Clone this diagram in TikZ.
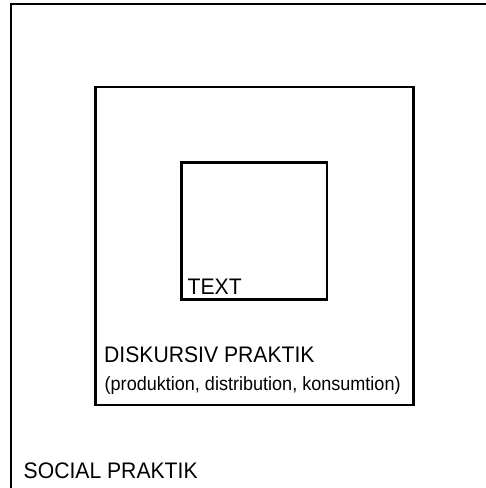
\documentclass[tikz,border=0pt]{standalone}
\usepackage{fontspec}
\setmainfont[FakeStretch=0.94]{Liberation Sans}
\begin{document}
\begin{tikzpicture}[x=1pt,y=-1pt,
  box/.style={draw=black,line width=2.8pt},
  lbl/.style={anchor=base west,inner sep=0pt,font=\fontsize{22.5}{26}\selectfont},
  sublbl/.style={anchor=base west,inner sep=0pt,font=\fontsize{19.2}{23}\selectfont}]
\useasboundingbox (0,0) rectangle (486,488);
\fill[white] (0,0) rectangle (486,488);
% outer frame (only top and left edges visible)
\draw[line width=2.4pt] (487,4) -- (11,4) -- (11,489);
% middle and inner boxes
\draw[box] (95.5,87) rectangle (413.5,405);
\draw[box] (181.5,162.5) rectangle (327,299.5);
\node[lbl] (social) at (23.5,478) {SOCIAL PRAKTIK};
\node[lbl] (disk) at (104,362) {DISKURSIV PRAKTIK};
\node[sublbl] (sub) at (104.5,390) {(produktion, distribution, konsumtion)};
\node[lbl] (text) at (187.5,294) {TEXT};
\end{tikzpicture}
\end{document}
